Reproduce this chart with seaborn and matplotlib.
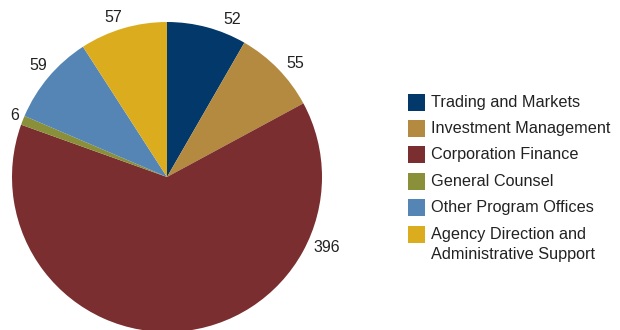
import matplotlib
matplotlib.use("Agg")
import matplotlib.pyplot as plt
from matplotlib.patches import Rectangle
import seaborn as sns

# Staff by division
divisions = [
    "Trading and Markets",
    "Investment Management",
    "Corporation Finance",
    "General Counsel",
    "Other Program Offices",
    "Agency Direction and\nAdministrative Support",
]
staff = [52, 55, 396, 6, 59, 57]
hex_colors = ["#02386A", "#B38A40", "#7A2E2F", "#8A8F3A", "#5585B5", "#DBAD1E"]

sns.set_theme(style="white")
plt.rcParams["font.family"] = ["Liberation Sans", "DejaVu Sans"]
palette = sns.color_palette(hex_colors)
text_color = "#222222"

fig = plt.figure(figsize=(6.2, 3.3), dpi=100)
W, H = 620, 330
cx, cy, r = 167, 177, 155
ax = fig.add_axes([(cx - r) / W, (H - cy - r) / H, 2 * r / W, 2 * r / H])

wedges, _ = ax.pie(staff, colors=palette, startangle=90, counterclock=False,
                   radius=1.0, wedgeprops=dict(linewidth=0))
ax.set_xlim(-1, 1)
ax.set_ylim(-1, 1)
ax.set_aspect("equal")
ax.axis("off")


def fx(px):
    return px / W


def fy(py):
    return 1 - py / H


# value labels around the pie (pixel positions of label centres)
label_px = [(232, 20), (295, 63), (327, 247), (15, 116), (38, 66), (113, 18)]
for val, (px, py) in zip(staff, label_px):
    fig.text(fx(px), fy(py), str(val), ha="center", va="center",
             fontsize=11.5, color=text_color)

# legend: colour squares with labels, one row per division
row0, pitch, line_gap = 102, 26.4, 20.5
sq = 17
for i, (name, col) in enumerate(zip(divisions, palette)):
    yc = row0 + i * pitch
    fig.patches.append(Rectangle((fx(408), fy(yc + sq / 2)), sq / W, sq / H,
                                 transform=fig.transFigure, facecolor=col,
                                 edgecolor="none"))
    for j, line in enumerate(name.split("\n")):
        fig.text(fx(431), fy(yc + j * line_gap), line, ha="left", va="center",
                 fontsize=11.7, color=text_color)

fig.savefig("out.png", dpi=100)
